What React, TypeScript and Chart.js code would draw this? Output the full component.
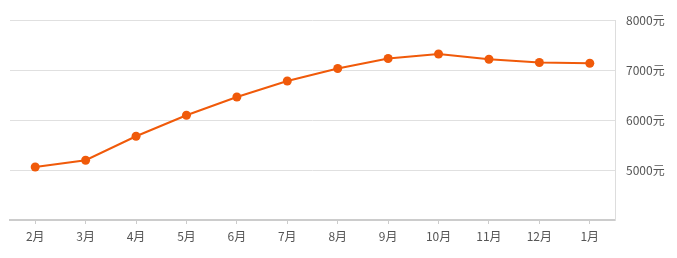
import React, { useEffect, useRef } from "react";
import { Chart, registerables } from "chart.js";

Chart.register(...registerables);

const categories = ["2月", "3月", "4月", "5月", "6月", "7月", "8月", "9月", "10月", "11月", "12月", "1月"];
const prices = [5060, 5195, 5675, 6095, 6460, 6780, 7030, 7230, 7320, 7215, 7150, 7135];
const yTicks = [4000, 5000, 6000, 7000, 8000];
const unit = "元";

export default function App() {
  const ref = useRef<HTMLCanvasElement | null>(null);
  useEffect(() => {
    if (!ref.current) return;
    const font = { family: "'Noto Sans CJK SC', 'Noto Sans', sans-serif", size: 12 };
    const chart = new Chart(ref.current, {
      type: "line",
      data: {
        labels: categories,
        datasets: [
          {
            data: prices,
            borderColor: "#f05a0a",
            backgroundColor: "#f05a0a",
            borderWidth: 2,
            pointRadius: 4.5,
            pointHoverRadius: 4.5,
            pointBorderWidth: 0,
            tension: 0,
          },
        ],
      },
      options: {
        animation: false,
        responsive: false,
        maintainAspectRatio: false,
        layout: { padding: { left: 10, top: 20, right: 0, bottom: 0 } },
        plugins: { legend: { display: false }, tooltip: { enabled: false } },
        scales: {
          x: {
            type: "category",
            offset: true,
            grid: { offset: false, drawOnChartArea: false, drawTicks: true, tickLength: 4, color: "#cccccc" },
            border: { display: true, color: "#cccccc", width: 2 },
            ticks: { color: "#555555", font, padding: 5, maxRotation: 0, autoSkip: false },
            afterFit: (s: any) => { s.height = 38; },
          },
          y: {
            position: "right",
            min: 4000,
            max: 8000,
            afterBuildTicks: (s: any) => { s.ticks = yTicks.map((v) => ({ value: v })); },
            grid: { color: "#e0e0e0", drawTicks: false },
            border: { display: true, color: "#dddddd", width: 1 },
            ticks: {
              color: "#555555",
              font,
              padding: 11,
              callback: (v: any) => (v === 4000 ? "" : v + unit),
            },
            afterFit: (s: any) => { s.width = 62; },
          },
        },
      },
    });
    return () => chart.destroy();
  }, []);
  return (
    <div style={{ position: "fixed", left: 0, top: 0, width: 677, height: 258, background: "#fff" }}>
      <canvas ref={ref} width={677} height={258} style={{ width: 677, height: 258 }} />
    </div>
  );
}
